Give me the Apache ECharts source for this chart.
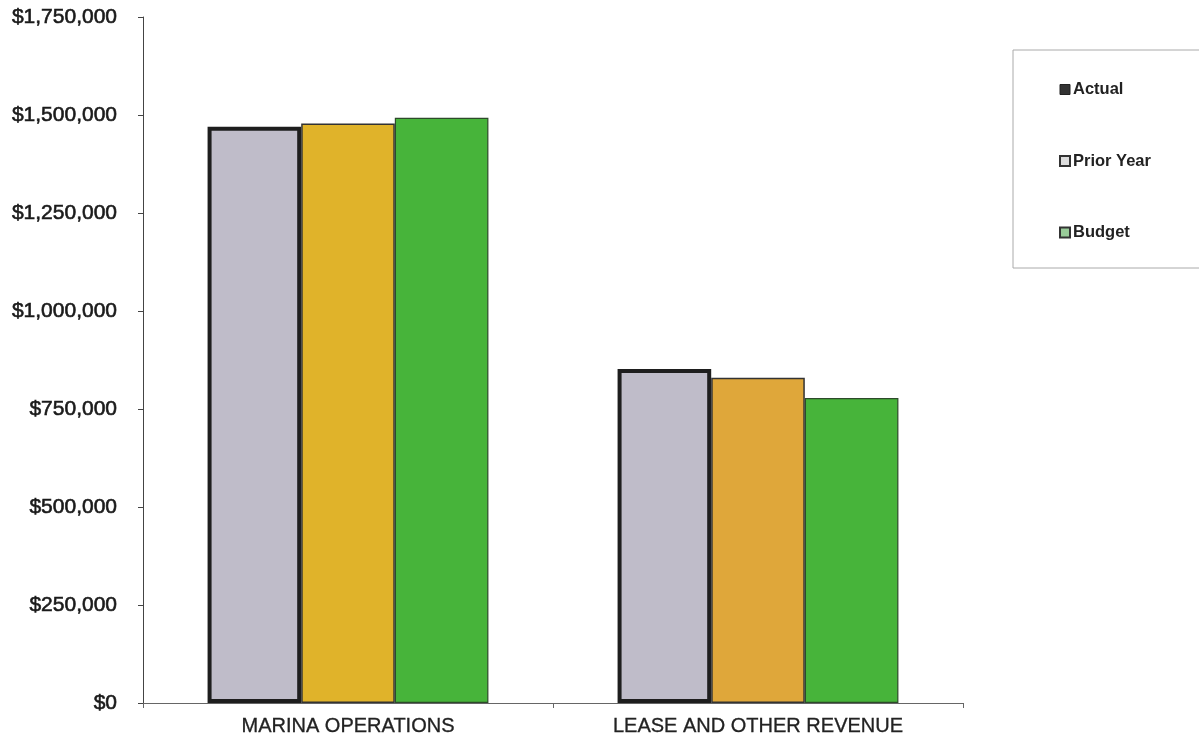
<!DOCTYPE html>
<html><head><meta charset="utf-8">
<script src="https://cdn.jsdelivr.net/npm/echarts@6/dist/echarts.min.js"></script>
<style>html,body{margin:0;padding:0;background:#fff}#c{width:1199px;height:742px}</style>
</head><body><div id="c"></div>
<script>
const categories = ['MARINA OPERATIONS', 'LEASE AND OTHER REVENUE'];
const actual = [1470000, 852000];
const priorYear = [1478000, 830000];
const budget = [1493000, 778000];
const yTicks = [0, 250000, 500000, 750000, 1000000, 1250000, 1500000, 1750000];

const fmt = v => '$' + v.toLocaleString('en-US');
const chart = echarts.init(document.getElementById('c'));
chart.setOption({
  animation: false,
  backgroundColor: '#fff',
  grid: {left: 143, right: 236, top: 17, bottom: 39, containLabel: false},
  legend: {
    orient: 'vertical', left: 1013, top: 50,
    padding: [31, 200, 27, 46],
    borderColor: '#aaa', borderWidth: 1,
    icon: 'rect',
    itemWidth: 10, itemHeight: 10, itemGap: 54.5,
    textStyle: {fontFamily: 'Liberation Sans, Arial', fontSize: 16.5, fontWeight: 'bold', color: '#222', padding: [0,0,0,-2]},
    data: [
      {name: 'Actual', itemStyle: {color: '#333', borderColor: '#222', borderWidth: 1}},
      {name: 'Prior Year', itemStyle: {color: '#ddd', borderColor: '#333', borderWidth: 2}},
      {name: 'Budget', itemStyle: {color: '#9c9', borderColor: '#333', borderWidth: 2}}
    ]
  },
  xAxis: {
    type: 'category', data: categories,
    axisLine: {lineStyle: {color: '#666', width: 1}},
    axisTick: {show: true, length: 5, lineStyle: {color: '#666'}},
    axisLabel: {fontFamily: 'Liberation Sans, Arial', fontSize: 20, color: '#222', margin: 13,
                textBorderColor: '#222', textBorderWidth: 0.3}
  },
  yAxis: {
    type: 'value', min: yTicks[0], max: yTicks[yTicks.length-1], interval: 250000,
    axisLine: {show: true, lineStyle: {color: '#444', width: 1}},
    axisTick: {show: true, length: 5, lineStyle: {color: '#444'}},
    splitLine: {show: false},
    axisLabel: {fontFamily: 'Liberation Sans, Arial', fontSize: 21, color: '#1a1a1a', margin: 26, formatter: fmt,
                textBorderColor: '#1a1a1a', textBorderWidth: 0.6}
  },
  series: [
    {name: 'Actual', type: 'bar', data: actual, barGap: '0%', barCategoryGap: '31.5%',
     itemStyle: {color: '#bfbcc9', borderColor: '#1e1e1e', borderWidth: 4}},
    {name: 'Prior Year', type: 'bar', data: priorYear,
     itemStyle: {color: function(p){return p.dataIndex===0?'#e0b32a':'#dfa73a';}, borderColor: '#333', borderWidth: 1.5}},
    {name: 'Budget', type: 'bar', data: budget,
     itemStyle: {color: '#47b43a', borderColor: '#2d4a2a', borderWidth: 1.2}}
  ]
});
</script></body></html>
